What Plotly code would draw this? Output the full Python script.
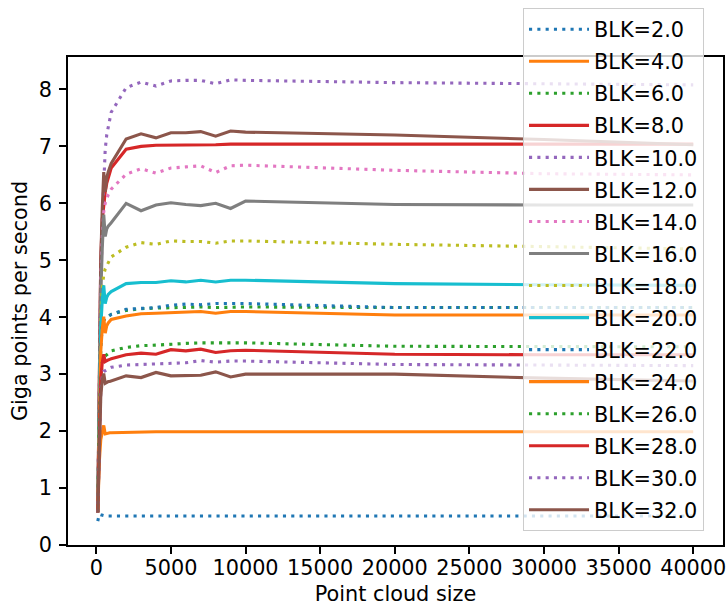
import plotly.graph_objects as go

# Point cloud sizes (x)
sizes = [100, 200, 300, 400, 500, 600, 700, 800, 900, 1000,
         2000, 3000, 4000, 5000, 6000, 7000, 8000, 9000, 10000,
         20000, 30000, 40000]

blk_labels = ["BLK=2.0", "BLK=4.0", "BLK=6.0", "BLK=8.0", "BLK=10.0", "BLK=12.0",
              "BLK=14.0", "BLK=16.0", "BLK=18.0", "BLK=20.0", "BLK=22.0", "BLK=24.0",
              "BLK=26.0", "BLK=28.0", "BLK=30.0", "BLK=32.0"]

blk2 = [0.42, 0.54, 0.53, 0.52, 0.52, 0.51, 0.51, 0.51, 0.51, 0.51, 0.51, 0.51, 0.51, 0.51, 0.51, 0.51, 0.51, 0.51, 0.51, 0.51, 0.51, 0.51]
blk4 = [0.57, 1.45, 1.85, 2.0, 2.1, 1.95, 1.96, 1.96, 1.97, 1.97, 1.98, 1.99, 1.99, 1.99, 1.99, 1.99, 1.99, 1.99, 1.99, 1.99, 1.99, 1.99]
blk6 = [0.58, 2.6, 3.5, 3.85, 3.95, 3.98, 4.0, 4.01, 4.03, 4.05, 4.12, 4.15, 4.16, 4.17, 4.17, 4.18, 4.17, 4.18, 4.18, 4.17, 4.17, 4.17]
blk8 = [0.58, 3.5, 5.0, 5.7, 6.0, 6.2, 6.35, 6.45, 6.55, 6.62, 6.95, 7.0, 7.02, 7.02, 7.03, 7.03, 7.03, 7.04, 7.04, 7.04, 7.04, 7.04]
blk10 = [0.6, 3.2, 4.8, 5.7, 6.4, 6.95, 7.2, 7.34, 7.47, 7.6, 8.03, 8.13, 8.06, 8.15, 8.16, 8.16, 8.1, 8.17, 8.16, 8.12, 8.1, 8.08]
blk12 = [0.58, 3.4, 5.0, 5.9, 6.55, 6.2, 6.45, 6.55, 6.62, 6.7, 7.13, 7.22, 7.15, 7.24, 7.24, 7.26, 7.18, 7.27, 7.25, 7.2, 7.12, 7.03]
blk14 = [0.58, 3.0, 4.6, 5.4, 5.85, 6.0, 6.1, 6.15, 6.2, 6.25, 6.51, 6.61, 6.53, 6.62, 6.64, 6.66, 6.54, 6.66, 6.67, 6.58, 6.52, 6.5]
blk16 = [0.58, 3.0, 4.4, 5.2, 5.8, 5.42, 5.55, 5.6, 5.63, 5.66, 6.0, 5.87, 5.97, 6.01, 5.98, 5.96, 6.0, 5.91, 6.04, 5.98, 5.97, 5.97]
blk18 = [0.58, 2.8, 4.0, 4.5, 4.75, 4.85, 4.9, 4.97, 5.02, 5.06, 5.23, 5.31, 5.28, 5.34, 5.33, 5.33, 5.3, 5.34, 5.34, 5.28, 5.24, 5.2]
blk20 = [0.58, 2.6, 3.8, 4.3, 4.56, 4.24, 4.35, 4.4, 4.43, 4.45, 4.59, 4.61, 4.61, 4.64, 4.62, 4.65, 4.62, 4.65, 4.65, 4.59, 4.57, 4.56]
blk22 = [0.58, 2.5, 3.5, 3.85, 3.95, 3.98, 4.0, 4.02, 4.03, 4.05, 4.14, 4.16, 4.17, 4.21, 4.23, 4.22, 4.24, 4.24, 4.24, 4.17, 4.17, 4.17]
blk24 = [0.57, 2.4, 3.4, 3.8, 4.01, 3.72, 3.85, 3.9, 3.93, 3.96, 4.02, 4.06, 4.07, 4.08, 4.08, 4.1, 4.07, 4.1, 4.1, 4.04, 4.04, 4.04]
blk26 = [0.57, 2.2, 2.9, 3.2, 3.3, 3.33, 3.34, 3.36, 3.38, 3.41, 3.47, 3.5, 3.51, 3.53, 3.54, 3.55, 3.55, 3.56, 3.55, 3.49, 3.48, 3.48]
blk28 = [0.57, 2.1, 2.9, 3.2, 3.35, 3.22, 3.24, 3.25, 3.26, 3.27, 3.34, 3.37, 3.35, 3.43, 3.41, 3.44, 3.38, 3.41, 3.42, 3.35, 3.34, 3.34]
blk30 = [0.57, 2.0, 2.7, 2.95, 3.05, 3.06, 3.08, 3.1, 3.11, 3.12, 3.16, 3.17, 3.18, 3.19, 3.2, 3.24, 3.21, 3.23, 3.23, 3.17, 3.16, 3.15]
blk32 = [0.57, 1.9, 2.6, 2.9, 3.01, 2.84, 2.86, 2.87, 2.87, 2.88, 2.97, 2.94, 3.03, 2.97, 2.98, 2.98, 3.04, 2.95, 3.0, 3.0, 2.93, 2.88]

series = [blk2, blk4, blk6, blk8, blk10, blk12, blk14, blk16,
          blk18, blk20, blk22, blk24, blk26, blk28, blk30, blk32]

y_ticks = [0, 1, 2, 3, 4, 5, 6, 7, 8]
x_ticks = [0, 5000, 10000, 15000, 20000, 25000, 30000, 35000, 40000]
x_tick_text = ["0", "5000", "10000", "15000", "20000", "25000", "30000", "35000", "40000"]

tab10 = ["#1f77b4", "#ff7f0e", "#2ca02c", "#d62728", "#9467bd",
         "#8c564b", "#e377c2", "#7f7f7f", "#bcbd22", "#17becf"]

FONT = "DejaVu Sans"
FS = 20.8

fig = go.Figure()
for i, (lab, vals) in enumerate(zip(blk_labels, series)):
    dash = "3.1px,5.2px" if i % 2 == 0 else "solid"
    fig.add_trace(go.Scatter(
        x=sizes, y=vals, mode="lines", name=lab, legendgroup=lab,
        line=dict(color=tab10[i % 10], width=3.1, dash=dash),
    ))

axis_common = dict(
    showline=True, linecolor="black", linewidth=1.6, mirror=True,
    ticks="outside", ticklen=7, tickwidth=1.6, tickcolor="black",
    showgrid=False, zeroline=False,
    tickfont=dict(family=FONT, size=FS, color="black"),
)

fig.update_layout(
    width=728, height=606,
    margin=dict(l=68, r=5, t=57, b=61, autoexpand=False),
    paper_bgcolor="white", plot_bgcolor="white",
    font=dict(family=FONT, size=FS, color="black"),
    xaxis=dict(range=[-1895, 41995], tickvals=x_ticks, ticktext=x_tick_text,
               title=dict(text="Point cloud size", font=dict(family=FONT, size=FS), standoff=16),
               ticklabelstandoff=-4,
               **axis_common),
    yaxis=dict(range=[0, 8.57], tickvals=y_ticks,
               title=dict(text="Giga points per second", font=dict(family=FONT, size=FS), standoff=6),
               ticklabelstandoff=3,
               **axis_common),
    legend=dict(
        x=0.6947, y=1.1, xanchor="left", yanchor="top",
        bgcolor="rgba(255,255,255,0.8)", bordercolor="#cccccc", borderwidth=1,
        font=dict(family=FONT, size=FS, color="black"),
        tracegroupgap=2, itemwidth=60, traceorder="grouped",
        maxheight=600,
    ),
    showlegend=True,
)

fig.write_html("out.html", config={"displayModeBar": False},
               post_script="document.body.style.margin='0';document.body.style.overflow='hidden';")
